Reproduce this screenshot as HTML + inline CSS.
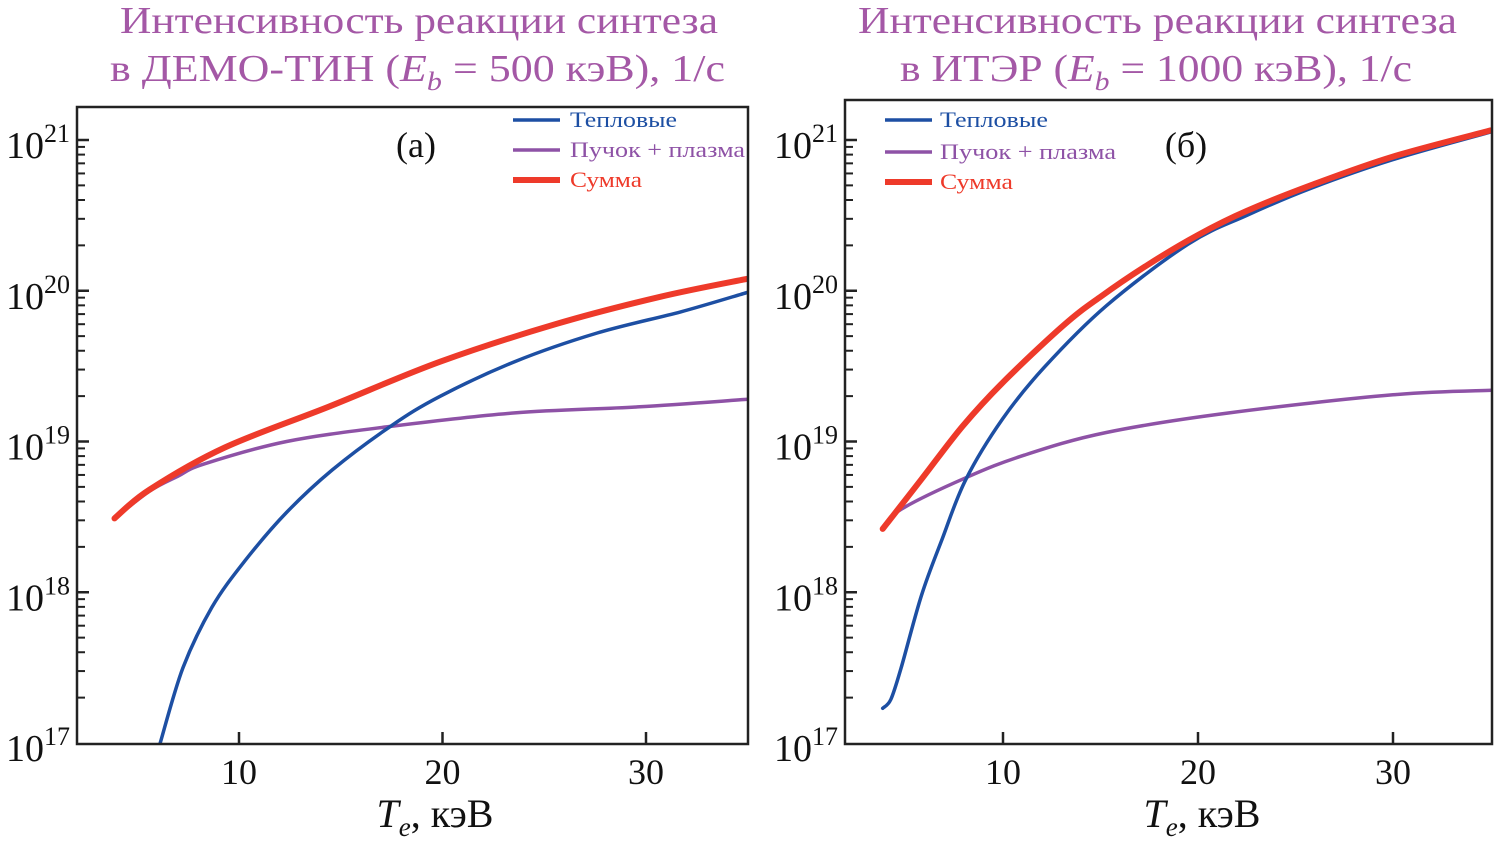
<!DOCTYPE html>
<html><head><meta charset="utf-8"><style>
body{margin:0;background:#fff;}
svg{display:block;font-family:"Liberation Serif","DejaVu Serif",serif;}
</style></head><body>
<svg id="c" width="1498" height="849" viewBox="0 0 1498 849"></svg>
<script>
const thermal_a_T = [6.13, 7.25, 8.67, 10.3, 12.34, 14.57, 17.44, 19.88, 23.56, 27.6, 31.7, 35];
const thermal_a = [17.0, 17.50, 17.90, 18.21, 18.53, 18.81, 19.10, 19.30, 19.53, 19.72, 19.86, 19.99];
const beam_a_T = [3.88, 5.6, 7.0, 8.27, 12.34, 17.44, 23.56, 29.7, 35];
const beam_a = [18.49, 18.67, 18.77, 18.85, 19.0, 19.10, 19.19, 19.23, 19.28];
const sum_a_T = [3.88, 5.6, 9.3, 14.4, 19.9, 25.6, 30.7, 35];
const sum_a = [18.49, 18.68, 18.96, 19.23, 19.53, 19.78, 19.96, 20.08];
const thermal_b_T = [3.83, 4.25, 4.78, 5.82, 6.87, 8.1, 9.98, 12.1, 15.3, 19.5, 22.5, 25.8, 30, 35.2];
const thermal_b = [17.23, 17.29, 17.50, 17.98, 18.35, 18.75, 19.15, 19.49, 19.90, 20.31, 20.50, 20.68, 20.87, 21.06];
const beam_b_T = [3.83, 4.78, 8.1, 11.1, 15.3, 21.6, 30, 35.2];
const beam_b = [18.42, 18.55, 18.76, 18.91, 19.06, 19.19, 19.31, 19.34];
const sum_b_T = [3.83, 5.82, 7.92, 9.98, 13.1, 15, 17.4, 20, 22.5, 25.8, 30, 35.2];
const sum_b = [18.42, 18.75, 19.10, 19.39, 19.77, 19.96, 20.17, 20.37, 20.53, 20.70, 20.89, 21.07];
const xTicks = [10, 20, 30];
const yDecades = [17, 18, 19, 20, 21];

const NS = "http://www.w3.org/2000/svg";
const svg = document.getElementById("c");
function el(tag, attrs, parent) {
  const e = document.createElementNS(NS, tag);
  for (const k in attrs) e.setAttribute(k, attrs[k]);
  (parent || svg).appendChild(e);
  return e;
}
function smooth(pts) {
  let d = "M" + pts[0][0].toFixed(1) + "," + pts[0][1].toFixed(1);
  for (let i = 0; i < pts.length - 1; i++) {
    const p0 = pts[Math.max(0, i-1)], p1 = pts[i], p2 = pts[i+1], p3 = pts[Math.min(pts.length-1, i+2)];
    const c1x = p1[0] + (p2[0]-p0[0])/6, c1y = p1[1] + (p2[1]-p0[1])/6;
    const c2x = p2[0] - (p3[0]-p1[0])/6, c2y = p2[1] - (p3[1]-p1[1])/6;
    d += "C" + c1x.toFixed(1) + "," + c1y.toFixed(1) + " " + c2x.toFixed(1) + "," + c2y.toFixed(1) + " " + p2[0].toFixed(1) + "," + p2[1].toFixed(1);
  }
  return d;
}
const panels = [
  {L:77, R:748, T:107, B:744, x0:35.5, kx:20.35,
   ser:[[thermal_a_T, thermal_a],[beam_a_T, beam_a],[sum_a_T, sum_a]],
   title2pre:"в ДЕМО-ТИН (", eb:"500", t1:[120,718], t2:[110,725], tag:"(а)", tagx:416, lgx:513, txl:[570,677,745,642], lgy:[120,150,180], axc:435, name:"panel-a"},
  {L:845, R:1492, T:100, B:744, x0:808, kx:19.5,
   ser:[[thermal_b_T, thermal_b],[beam_b_T, beam_b],[sum_b_T, sum_b]],
   title2pre:"в ИТЭР (", eb:"1000", t1:[858,1457], t2:[900,1412], tag:"(б)", tagx:1186, lgx:885, txl:[940,1048,1116,1013], lgy:[120,152,182], axc:1202, name:"panel-b"}
];
const yS = v => 743 - 150.75 * (v - 17);
panels.forEach(p => {
  const g = el("g", {});
  
  
  const xS = t => p.x0 + p.kx * t;
  const t1 = el("text", {x:p.t1[0], y:33, "font-size":38, fill:"#a458a6", textLength:p.t1[1]-p.t1[0], lengthAdjust:"spacingAndGlyphs"}, g);
  t1.textContent = "Интенсивность реакции синтеза";
  
  
  const t2 = el("text", {x:p.t2[0], y:81, "font-size":38, fill:"#a458a6", textLength:p.t2[1]-p.t2[0], lengthAdjust:"spacingAndGlyphs"}, g);
  
  
  t2.innerHTML = p.title2pre + '<tspan font-style="italic">E</tspan><tspan font-style="italic" font-size="26" dy="9">b</tspan><tspan dy="-9"> = ' + p.eb + ' кэВ), 1/с</tspan>';
  const cid = "clip" + p.name;
  const cp = el("clipPath", {id:cid}, g);
  el("rect", {x:p.L, y:p.T, width:p.R-p.L, height:p.B-p.T}, cp);
  yDecades.forEach(d => {
    const y = yS(d);
    if (d > 17) {
      const tk = el("line", {x1:p.L, x2:p.L+12, y1:y, y2:y, stroke:"#222", "stroke-width":2.5}, g);
      
      
    }
    const lab = el("text", {x:p.L-7, y:y+18, "text-anchor":"end", "font-size":38, fill:"#111"}, g);
    
    
    lab.innerHTML = '10<tspan font-size="26" dy="-16">' + d + '</tspan>';
    if (d < 21) for (let m = 2; m <= 9; m++) {
      const ym = yS(d + Math.log10(m));
      const mt = el("line", {x1:p.L, x2:p.L+8, y1:ym, y2:ym, stroke:"#222", "stroke-width":2}, g);
      
      
    }
  });
  xTicks.forEach(t => {
    const x = xS(t);
    const tk = el("line", {x1:x, x2:x, y1:p.B, y2:p.B-12, stroke:"#222", "stroke-width":2.5}, g);
    
    
    const lab = el("text", {x:x, y:p.B+40, "text-anchor":"middle", "font-size":36, fill:"#111"}, g);
    lab.textContent = t;
    
    
  });
  const xl = el("text", {x:p.axc, y:827, "text-anchor":"middle", "font-size":40, fill:"#111"}, g);
  xl.innerHTML = '<tspan font-style="italic">T</tspan><tspan font-style="italic" font-size="27" dy="9">e</tspan><tspan dy="-9">, кэВ</tspan>';
  
  
  const styles = [["#1d4fa3",3.5,"series-thermal"],["#8e52a6",3.5,"series-beam-plasma"],["#ee3a2a",6,"series-sum"]];
  [1,0,2].forEach(i => {
    const s = p.ser[i];
    const pts = s[0].map((t, j) => [xS(t), yS(s[1][j])]);
    const path = el("path", {d:smooth(pts), fill:"none", stroke:styles[i][0], "stroke-width":styles[i][1], "stroke-linejoin":"round", "stroke-linecap":"round", "clip-path":"url(#"+cid+")"}, g);
    
    
  });
  const fr = el("rect", {x:p.L, y:p.T, width:p.R-p.L, height:p.B-p.T, fill:"none", stroke:"#222", "stroke-width":2.5}, g);
  
  
  const tg = el("text", {x:p.tagx, y:157, "text-anchor":"middle", "font-size":36, fill:"#111"}, g);
  tg.textContent = p.tag;
  
  
  const leg = [["Тепловые","#1d4fa3",3.5],["Пучок + плазма","#8e52a6",3.5],["Сумма","#ee3a2a",6]];
  leg.forEach((L, i) => {
    const y = p.lgy[i];
    const ln = el("line", {x1:p.lgx, x2:p.lgx+47, y1:y, y2:y, stroke:L[1], "stroke-width":L[2]}, g);
    
    
    const tx = el("text", {x:p.txl[0], y:y+7, "font-size":22, fill:L[1], textLength:p.txl[i+1]-p.txl[0], lengthAdjust:"spacingAndGlyphs"}, g);
    tx.textContent = L[0];
    
    
  });
});
</script>
</body></html>
